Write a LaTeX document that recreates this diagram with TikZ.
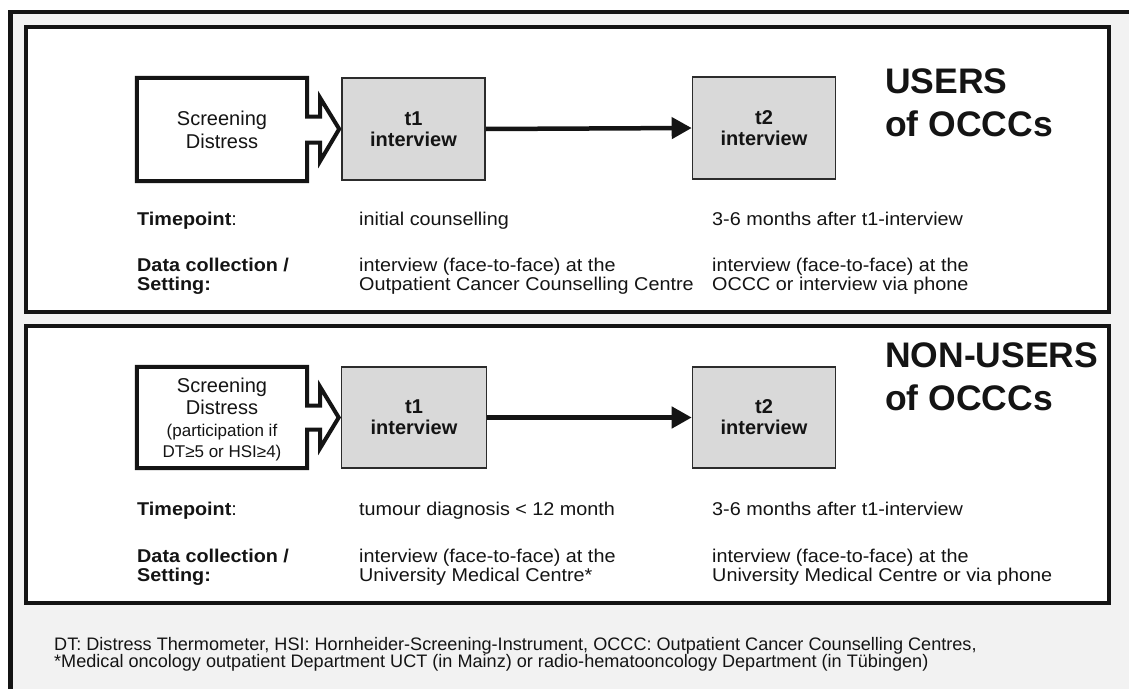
\documentclass[tikz,border=0pt]{standalone}
\usepackage{fontspec}
\setmainfont{Liberation Sans}
\newfontfamily\rowfont{Liberation Sans}[FakeStretch=1.07]
\usetikzlibrary{arrows.meta,calc}
\definecolor{bggray}{RGB}{242,242,242}
\definecolor{boxgray}{RGB}{217,217,217}
\definecolor{ink}{RGB}{20,20,20}
\begin{document}
\begin{tikzpicture}[x=1pt,y=-1pt,
  panel/.style={draw=ink,line width=4pt,fill=white},
  tbox/.style={draw=ink!90,line width=1.6pt,fill=boxgray,minimum width=143pt,minimum height=102pt,inner sep=0pt,align=center,font=\bfseries\fontsize{20}{21}\selectfont,text=ink},
  sbox/.style={minimum width=170pt,minimum height=103pt,inner sep=0pt,align=center,text=ink},
  notch/.style={draw=ink,line width=4pt,line join=miter},
  flow/.style={draw=ink,line width=4.5pt,-{Triangle[length=20pt,width=21pt]}},
  rowtxt/.style={inner sep=0pt,anchor=base west,font=\rowfont\fontsize{18.5}{20}\selectfont,text=ink},
  title/.style={inner sep=0pt,anchor=base west,font=\bfseries\fontsize{35.5}{40}\selectfont,text=ink},
  foot/.style={inner sep=0pt,anchor=base west,font=\fontsize{18.1}{18}\selectfont,text=ink}
]
\useasboundingbox (0,0) rectangle (1129,688);
\fill[white] (0,0) rectangle (1129,688);
\fill[bggray] (10.5,12) rectangle (1135,695);
\draw[draw=ink,line width=4.3pt] (10.5,695) -- (10.5,12) -- (1135,12);

% panels
\draw[panel] (25.5,27) rectangle (1109,311.5);
\draw[panel] (25.5,326) rectangle (1109,603);

% ---------- USERS ----------
\node[tbox] (t1a) at (413.5,129) {t1\\interview};
\node[tbox] (t2a) at (764,128) {t2\\interview};
\node[sbox,font=\fontsize{20}{23}\selectfont] (s1) at (222,129.5) {Screening\\Distress};
\draw[notch] (s1.north west) -- (s1.north east) -- ($(s1.east)+(0,-13)$) -- ($(s1.east)+(13,-13)$)
  -- ($(s1.east)+(13,-31.5)$) -- ($(t1a.west)+(-2,0)$) -- ($(s1.east)+(13,31.5)$)
  -- ($(s1.east)+(13,13)$) -- ($(s1.east)+(0,13)$) -- (s1.south east) -- (s1.south west) -- cycle;
\draw[flow] (t1a.east) -- (t2a.west);

\node[title] (ua) at (885,93) {USERS};
\node[title] (ub) at (885,136) {of OCCCs};

\node[rowtxt] (tpa) at (137,225) {\textbf{Timepoint}:};
\node[rowtxt] (dca) at (137,271) {\textbf{Data collection /}};
\node[rowtxt] (sea) at (137,290) {\textbf{Setting:}};
\node[rowtxt] (a21) at (359,225) {initial counselling};
\node[rowtxt] (a22) at (359,271) {interview (face-to-face) at the};
\node[rowtxt] (a23) at (359,290) {Outpatient Cancer Counselling Centre};
\node[rowtxt] (a31) at (712,225) {3-6 months after t1-interview};
\node[rowtxt] (a32) at (712,271) {interview (face-to-face) at the};
\node[rowtxt] (a33) at (712,290) {OCCC or interview via phone};

% ---------- NON-USERS ----------
\node[tbox,minimum width=145pt,minimum height=101pt] (t1b) at (414,417.5) {t1\\interview};
\node[tbox,minimum height=101pt] (t2b) at (764,417.5) {t2\\interview};
\node[sbox,minimum height=101pt] (s2) at (222,417.5) {};
\node[inner sep=0pt,anchor=base,font=\fontsize{20}{22}\selectfont,text=ink] (s2a) at (222,392) {Screening};
\node[inner sep=0pt,anchor=base,font=\fontsize{20}{22}\selectfont,text=ink] (s2b) at (222,414) {Distress};
\node[inner sep=0pt,anchor=base,font=\fontsize{17}{20}\selectfont,text=ink] (s2c) at (222,436) {(participation if};
\node[inner sep=0pt,anchor=base,font=\fontsize{17}{20}\selectfont,text=ink] (s2d) at (222,457) {DT≥5 or HSI≥4)};
\draw[notch] (s2.north west) -- (s2.north east) -- ($(s2.east)+(0,-12)$) -- ($(s2.east)+(13,-12)$)
  -- ($(s2.east)+(13,-30.5)$) -- ($(t1b.west)+(-2,0)$) -- ($(s2.east)+(13,30.5)$)
  -- ($(s2.east)+(13,12)$) -- ($(s2.east)+(0,12)$) -- (s2.south east) -- (s2.south west) -- cycle;
\draw[flow] (t1b.east) -- (t2b.west);

\node[title] (na) at (885,367) {NON-USERS};
\node[title] (nb) at (885,410) {of OCCCs};

\node[rowtxt] (tpb) at (137,515) {\textbf{Timepoint}:};
\node[rowtxt] (dcb) at (137,562) {\textbf{Data collection /}};
\node[rowtxt] (seb) at (137,581) {\textbf{Setting:}};
\node[rowtxt] (b21) at (359,515) {tumour diagnosis < 12 month};
\node[rowtxt] (b22) at (359,562) {interview (face-to-face) at the};
\node[rowtxt] (b23) at (359,581) {University Medical Centre*};
\node[rowtxt] (b31) at (712,515) {3-6 months after t1-interview};
\node[rowtxt] (b32) at (712,562) {interview (face-to-face) at the};
\node[rowtxt] (b33) at (712,581) {University Medical Centre or via phone};

% ---------- footnote ----------
\node[foot] (f1) at (54,650) {DT: Distress Thermometer, HSI: Hornheider-Screening-Instrument, OCCC: Outpatient Cancer Counselling Centres,};
\node[foot] (f2) at (54,667) {*Medical oncology outpatient Department UCT (in Mainz) or radio-hematooncology Department (in Tübingen)};
\end{tikzpicture}
\end{document}
